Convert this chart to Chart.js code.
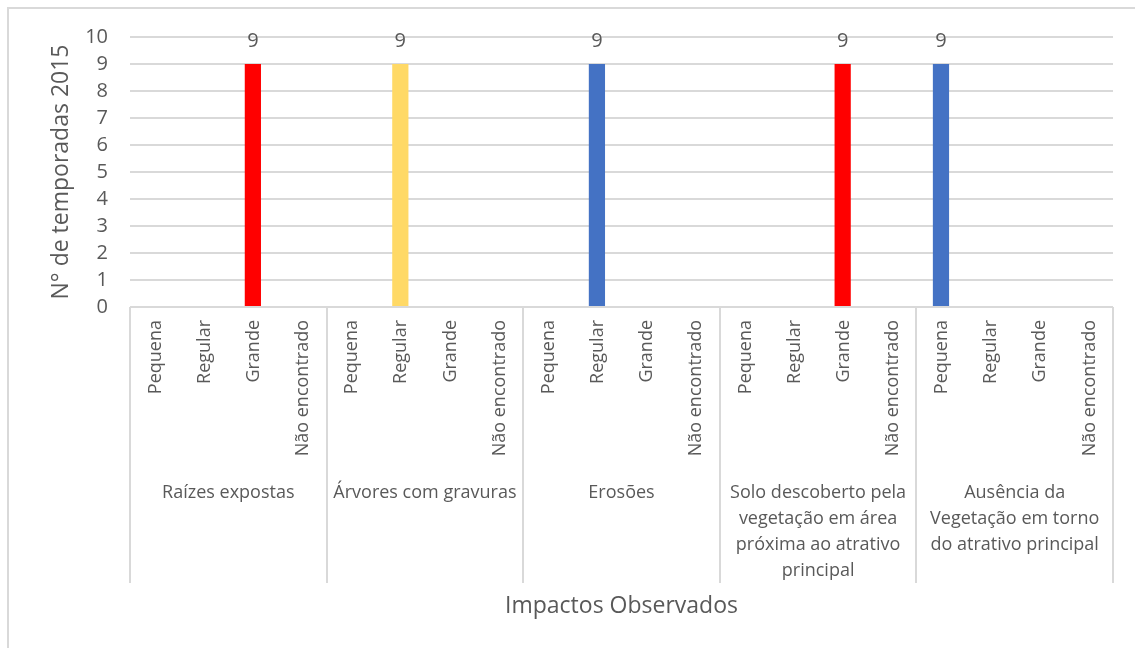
<!DOCTYPE html>
<html>
<head>
<meta charset="utf-8">
<script src="https://cdn.jsdelivr.net/npm/chart.js@4/dist/chart.umd.min.js"></script>
<style>
  html, body { margin: 0; padding: 0; background: #ffffff; }
  #wrap { width: 1135px; height: 648px; position: relative; }
</style>
</head>
<body>
<div id="wrap"><canvas id="chart" width="1135" height="648"></canvas></div>
<script>
// Impact levels repeated under every impact group
const levels = ['Pequena', 'Regular', 'Grande', 'Não encontrado'];
// Impact groups (one line per array entry)
const groups = [
  ['Raízes expostas'],
  ['Árvores com gravuras'],
  ['Erosões'],
  ['Solo descoberto pela', 'vegetação em área', 'próxima ao atrativo', 'principal'],
  ['Ausência da', 'Vegetação em torno', 'do atrativo principal']
];
// Number of seasons per group/level (blank where nothing was recorded)
const values = [
  null, null, 9, null,
  null, 9, null, null,
  null, 9, null, null,
  null, null, 9, null,
  9, null, null, null
];
const barColors = [
  null, null, '#FF0000', null,
  null, '#FFD966', null, null,
  null, '#4472C4', null, null,
  null, null, '#FF0000', null,
  '#4472C4', null, null, null
];
const yMin = 0, yMax = 10, yStep = 1;
const yTitle = 'N° de temporadas 2015';
const xTitle = 'Impactos Observados';

const FONT = '"Open Sans", "Noto Sans", sans-serif';
const TEXT = '#595959';
const LINE = '#d9d9d9';

const categoryLabels = [];
groups.forEach(g => levels.forEach(l => categoryLabels.push(l + ' | ' + g.join(' '))));

const decorations = {
  id: 'decorations',
  beforeDraw(chart) {
    const ctx = chart.ctx;
    ctx.save();
    ctx.fillStyle = '#ffffff';
    ctx.fillRect(0, 0, chart.width, chart.height);
    ctx.strokeStyle = LINE;
    ctx.lineWidth = 2;
    ctx.strokeRect(8, 8, chart.width + 20, chart.height + 20);
    ctx.restore();
  },
  afterDraw(chart) {
    const ctx = chart.ctx;
    const xs = chart.scales.x;
    const area = chart.chartArea;
    const groupW = (xs.right - xs.left) / groups.length;
    ctx.save();

    // group separators under the axis
    ctx.strokeStyle = LINE;
    ctx.lineWidth = 2;
    for (let k = 0; k <= groups.length; k++) {
      const x = Math.round(xs.left + k * groupW);
      ctx.beginPath();
      ctx.moveTo(x, area.bottom);
      ctx.lineTo(x, 583);
      ctx.stroke();
    }
    // axis line
    ctx.beginPath();
    ctx.moveTo(xs.left, area.bottom);
    ctx.lineTo(xs.right, area.bottom);
    ctx.stroke();

    ctx.fillStyle = TEXT;

    // level labels, rotated
    ctx.font = '18px ' + FONT;
    ctx.textAlign = 'right';
    ctx.textBaseline = 'middle';
    for (let i = 0; i < categoryLabels.length; i++) {
      const x = xs.getPixelForValue(i);
      ctx.save();
      ctx.translate(x + 1, area.bottom + 13);
      ctx.rotate(-Math.PI / 2);
      ctx.fillText(levels[i % levels.length], 0, 0);
      ctx.restore();
    }

    // group labels
    ctx.textAlign = 'center';
    groups.forEach((lines, k) => {
      const cx = xs.left + (k + 0.5) * groupW;
      lines.forEach((t, j) => ctx.fillText(t, cx, 493 + j * 26));
    });

    // axis titles
    ctx.font = '23px ' + FONT;
    ctx.fillText(xTitle, (xs.left + xs.right) / 2, 606);
    ctx.save();
    ctx.translate(61, (area.top + area.bottom) / 2);
    ctx.rotate(-Math.PI / 2);
    ctx.fillText(yTitle, 0, 0);
    ctx.restore();

    // value labels above bars
    ctx.font = '20px ' + FONT;
    ctx.textBaseline = 'alphabetic';
    const meta = chart.getDatasetMeta(0);
    meta.data.forEach((bar, i) => {
      const v = values[i];
      if (v === null || v === undefined) return;
      ctx.fillText(String(v), bar.x, bar.y - 17);
    });
    ctx.restore();
  }
};

new Chart(document.getElementById('chart'), {
  type: 'bar',
  data: {
    labels: categoryLabels,
    datasets: [{
      data: values,
      backgroundColor: barColors,
      borderWidth: 0,
      categoryPercentage: 1,
      barPercentage: 0.33
    }]
  },
  options: {
    responsive: false,
    animation: false,
    devicePixelRatio: 1,
    layout: { padding: { top: 37, right: 22, left: 0, bottom: 0 } },
    plugins: { legend: { display: false }, tooltip: { enabled: false } },
    scales: {
      x: {
        ticks: { display: false },
        grid: { display: false },
        border: { display: false },
        afterFit(scale) { scale.height = 648 - 307; }
      },
      y: {
        min: yMin,
        max: yMax,
        ticks: {
          stepSize: yStep,
          color: TEXT,
          padding: 22,
          font: { family: FONT, size: 20 }
        },
        grid: { color: LINE, lineWidth: 2, drawTicks: false },
        border: { display: false },
        afterFit(scale) { scale.width = 130; }
      }
    }
  },
  plugins: [decorations]
});
</script>
</body>
</html>
